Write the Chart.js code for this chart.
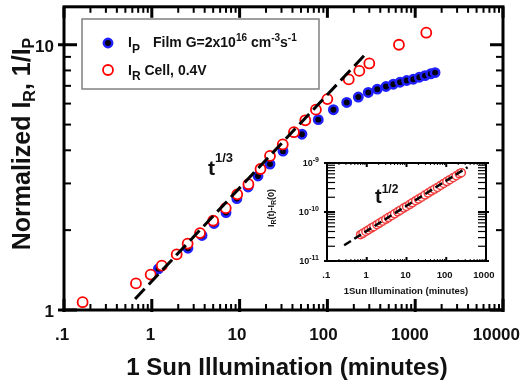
<!DOCTYPE html>
<html>
<head>
<meta charset="utf-8">
<script src="https://cdn.jsdelivr.net/npm/chart.js@4/dist/chart.umd.min.js"></script>
<style>
  html, body { margin: 0; padding: 0; background: #fff; }
  #wrap { position: relative; width: 528px; height: 386px; overflow: hidden; }
  #main { position: absolute; left: 0; top: 0; }
  #inset { position: absolute; left: 258px; top: 150px; }
</style>
</head>
<body>
<div id="wrap">
  <canvas id="main" width="528" height="386"></canvas>
  <canvas id="inset" width="247" height="150"></canvas>
</div>
<script>
// Photoconductivity (film) vs recombination current (cell) under 1 sun
const filmTime = [1.19, 2.58, 3.73, 5.11, 7.0, 9.3, 12.5, 16.2, 22.2, 31.2, 51.3, 78.7, 117, 166, 225, 292, 370, 465, 563, 671, 800, 951, 1113, 1294, 1503, 1683];
const filmNorm = [1.43, 1.71, 1.91, 2.12, 2.33, 2.63, 2.91, 3.2, 3.55, 3.97, 4.6, 5.22, 5.69, 6.06, 6.35, 6.61, 6.80, 6.96, 7.10, 7.22, 7.33, 7.41, 7.54, 7.65, 7.77, 7.85];

const cellTime = [0.163, 0.66, 0.97, 1.3, 1.92, 2.56, 3.54, 5.0, 6.95, 9.4, 12.6, 17.3, 22.2, 31, 41.6, 56, 74, 100, 175, 231, 300, 653, 1337];
const cellNorm = [1.07, 1.26, 1.36, 1.47, 1.62, 1.78, 1.95, 2.17, 2.42, 2.73, 2.98, 3.4, 3.81, 4.21, 4.68, 5.19, 5.69, 6.24, 7.40, 7.97, 8.5, 10.0, 11.1];

// t^(1/3) guide line
const fitTime = [0.645, 270];
const fitNorm = [1.1, 9.2];

const xTickVals = [0.1, 1, 10, 100, 1000, 10000];
const xTickText = ['.1', '1', '10', '100', '1000', '10000'];
const yTickVals = [1, 10];
const yTickText = ['1', '10'];

// inset: I_R(t) - I_R(0)
const insetTime = [0.7, 0.8, 0.95, 1.1, 1.3, 1.5, 1.8, 2.1, 2.5, 3, 3.5, 4.2, 5, 6, 7, 8.5, 10, 12, 14, 17, 20, 24, 29, 35, 42, 50, 60, 72, 86, 103, 123, 148, 178, 213, 240];
const insetCurrent = [3.45e-11, 3.68e-11, 4.0e-11, 4.3e-11, 4.7e-11, 5.0e-11, 5.5e-11, 5.95e-11, 6.5e-11, 7.1e-11, 7.7e-11, 8.4e-11, 9.2e-11, 1.01e-10, 1.09e-10, 1.2e-10, 1.3e-10, 1.42e-10, 1.54e-10, 1.7e-10, 1.84e-10, 2.01e-10, 2.22e-10, 2.44e-10, 2.67e-10, 2.9e-10, 3.18e-10, 3.49e-10, 3.82e-10, 4.18e-10, 4.56e-10, 5.0e-10, 5.49e-10, 6.0e-10, 6.36e-10];
const insetFitTime = [0.27, 344];
const insetFitCurrent = [2.1e-11, 8.2e-10];

const insetXTickVals = [0.1, 1, 10, 100, 1000];
const insetXTickText = ['.1', '1', '10', '100', '1000'];
const insetYTickVals = [1e-9, 1e-10, 1e-11];
const insetYTickExp = ['-9', '-10', '-11'];

const FONT = 'Arial, "Liberation Sans", sans-serif';

function pts(xs, ys) { return xs.map((v, i) => ({ x: v, y: ys[i] })); }

function runsWidth(ctx, runs) {
  let w = 0;
  for (const r of runs) { ctx.font = `bold ${r.size}px ${FONT}`; w += ctx.measureText(r.text).width; }
  return w;
}
function drawRuns(ctx, x, y, runs) {
  for (const r of runs) {
    ctx.font = `bold ${r.size}px ${FONT}`;
    ctx.fillText(r.text, x, y + (r.dy || 0));
    x += ctx.measureText(r.text).width;
  }
  return x;
}
function seg(ctx, x1, y1, x2, y2) {
  ctx.beginPath(); ctx.moveTo(x1, y1); ctx.lineTo(x2, y2); ctx.stroke();
}
// decade and sub-decade positions for tick marks
function logSteps(min, max) {
  const out = [];
  for (let e = Math.floor(Math.log10(min)); e <= Math.ceil(Math.log10(max)); e++) {
    for (let m = 1; m < 10; m++) {
      const v = m * Math.pow(10, e);
      if (v >= min * 0.999 && v <= max * 1.001) out.push({ v, major: m === 1 });
    }
  }
  return out;
}

const mainDecor = {
  id: 'mainDecor',
  afterDraw(chart) {
    const { ctx, chartArea: a, scales: { x, y } } = chart;
    ctx.save();
    ctx.strokeStyle = '#000';
    ctx.fillStyle = '#111';

    // inward ticks on all four sides
    for (const t of logSteps(x.min, x.max)) {
      const px = x.getPixelForValue(t.v);
      ctx.lineWidth = t.major ? 3 : 2;
      const len = t.major ? 11 : 6;
      seg(ctx, px, a.bottom + (t.major ? 2 : 0), px, a.bottom - len);
      seg(ctx, px, a.top, px, a.top + len);
    }
    for (const t of logSteps(y.min, y.max)) {
      const py = y.getPixelForValue(t.v);
      ctx.lineWidth = t.major ? 3 : 2;
      const len = t.major ? 13 : 7;
      seg(ctx, a.left - (t.major ? 6 : 0), py, a.left + len, py);
      seg(ctx, a.right, py, a.right - len, py);
    }
    ctx.lineWidth = 3;
    ctx.strokeRect(a.left, a.top, a.right - a.left, a.bottom - a.top);

    // tick labels
    ctx.font = `bold 17px ${FONT}`;
    ctx.textAlign = 'left';
    xTickVals.forEach((v, i) => {
      const w = ctx.measureText(xTickText[i]).width;
      ctx.fillText(xTickText[i], x.getPixelForValue(v) - w * 0.64, a.bottom + 30);
    });
    ctx.textAlign = 'right';
    yTickVals.forEach((v, i) => {
      ctx.fillText(yTickText[i], a.left - 10, y.getPixelForValue(v) + 7);
    });
    ctx.textAlign = 'left';

    // axis titles
    const xt = [{ text: '1 Sun Illumination (minutes)', size: 24 }];
    drawRuns(ctx, 287 - runsWidth(ctx, xt) / 2, 375, xt);

    const yt = [
      { text: 'Normalized I', size: 25 },
      { text: 'R', size: 16, dy: 5 },
      { text: ', 1/I', size: 25 },
      { text: 'P', size: 16, dy: 4 }
    ];
    ctx.save();
    ctx.translate(30, 144);
    ctx.rotate(-Math.PI / 2);
    drawRuns(ctx, -runsWidth(ctx, yt) / 2, 0, yt);
    ctx.restore();

    // legend
    ctx.fillStyle = '#fff';
    ctx.fillRect(82, 19, 237, 70);
    ctx.lineWidth = 1.5;
    ctx.strokeStyle = '#808080';
    ctx.strokeRect(82, 19, 237, 70);

    ctx.beginPath(); ctx.arc(108, 43, 4.2, 0, Math.PI * 2);
    ctx.fillStyle = '#000010'; ctx.fill();
    ctx.lineWidth = 2.5; ctx.strokeStyle = '#2020ff'; ctx.stroke();
    ctx.beginPath(); ctx.arc(108, 70, 5, 0, Math.PI * 2);
    ctx.fillStyle = '#fff'; ctx.fill();
    ctx.lineWidth = 1.8; ctx.strokeStyle = '#ff0000'; ctx.stroke();

    ctx.fillStyle = '#111';
    let cx = drawRuns(ctx, 128, 47, [{ text: 'I', size: 14 }, { text: 'P', size: 12, dy: 6 }]);
    cx = drawRuns(ctx, 153, 47, [{ text: 'Film G=2x10', size: 14 }, { text: '16', size: 10, dy: -6 }, { text: ' cm', size: 14 }]);
    cx = drawRuns(ctx, cx, 47, [{ text: '-3', size: 10, dy: -6 }, { text: 's', size: 14 }, { text: '-1', size: 10, dy: -6 }]);
    drawRuns(ctx, 128, 75, [{ text: 'I', size: 14 }, { text: 'R', size: 12, dy: 5 }, { text: ' Cell, 0.4V', size: 14 }]);

    // power-law annotation
    drawRuns(ctx, 208, 175, [{ text: 't', size: 21 }, { text: '1/3', size: 13, dy: -13 }]);
    ctx.restore();
  }
};

new Chart(document.getElementById('main'), {
  type: 'scatter',
  data: {
    datasets: [
      {
        label: 'fit',
        data: pts(fitTime, fitNorm),
        showLine: true,
        borderColor: '#000',
        borderWidth: 3,
        borderDash: [14, 6],
        pointRadius: 0,
        order: 0
      },
      {
        label: 'IR Cell, 0.4V',
        data: pts(cellTime, cellNorm),
        pointRadius: 5,
        pointBorderWidth: 1.8,
        pointBorderColor: '#ff0000',
        pointBackgroundColor: '#ffffff',
        order: 1
      },
      {
        label: 'IP Film',
        data: pts(filmTime, filmNorm),
        pointRadius: 4.2,
        pointBorderWidth: 2.5,
        pointBorderColor: '#2020ff',
        pointBackgroundColor: '#000010',
        order: 2
      }
    ]
  },
  options: {
    responsive: false,
    animation: false,
    devicePixelRatio: 1,
    layout: { padding: { left: 64, top: 5, right: 25, bottom: 76 } },
    plugins: { legend: { display: false }, tooltip: { enabled: false } },
    scales: {
      x: { type: 'logarithmic', min: 0.1, max: 10000, display: false },
      y: { type: 'logarithmic', min: 1, max: 13.9, display: false }
    }
  },
  plugins: [mainDecor]
});

const insetDecor = {
  id: 'insetDecor',
  afterDraw(chart) {
    const { ctx, chartArea: a, scales: { x, y } } = chart;
    ctx.save();
    ctx.strokeStyle = '#000';
    ctx.fillStyle = '#111';

    for (const t of logSteps(x.min, x.max)) {
      const px = x.getPixelForValue(t.v);
      ctx.lineWidth = t.major ? 2 : 1;
      const len = t.major ? 4 : 2;
      seg(ctx, px, a.bottom, px, a.bottom - len);
      seg(ctx, px, a.top, px, a.top + len);
    }
    for (const t of logSteps(y.min, y.max)) {
      const py = y.getPixelForValue(t.v);
      ctx.lineWidth = t.major ? 2 : 1.2;
      seg(ctx, a.left - (t.major ? 3 : 0), py, a.left + 8, py);
      seg(ctx, a.right + (t.major ? 3 : 0), py, a.right - 8, py);
    }
    ctx.lineWidth = 2;
    ctx.strokeRect(a.left, a.top, a.right - a.left, a.bottom - a.top);

    ctx.font = `bold 9.5px ${FONT}`;
    insetXTickVals.forEach((v, i) => {
      const w = ctx.measureText(insetXTickText[i]).width;
      ctx.fillText(insetXTickText[i], x.getPixelForValue(v) - w * 0.6, a.bottom + 17);
    });
    insetYTickVals.forEach((v, i) => {
      const runs = [{ text: '10', size: 9 }, { text: insetYTickExp[i], size: 7, dy: -4 }];
      drawRuns(ctx, a.left - 8 - runsWidth(ctx, runs), y.getPixelForValue(v) + 3, runs);
    });

    const xt = [{ text: '1Sun Illumination (minutes)', size: 9.5 }];
    drawRuns(ctx, 148 - runsWidth(ctx, xt) / 2, 143.5, xt);

    const yt = [
      { text: 'I', size: 9 }, { text: 'R', size: 7, dy: 2 },
      { text: '(t)-I', size: 9 }, { text: 'R', size: 7, dy: 2 },
      { text: '(0)', size: 9 }
    ];
    ctx.save();
    ctx.translate(16, 58);
    ctx.rotate(-Math.PI / 2);
    drawRuns(ctx, -runsWidth(ctx, yt) / 2, 0, yt);
    ctx.restore();

    drawRuns(ctx, 117, 53, [{ text: 't', size: 20 }, { text: '1/2', size: 12, dy: -10 }]);
    ctx.restore();
  }
};

new Chart(document.getElementById('inset'), {
  type: 'scatter',
  data: {
    datasets: [
      {
        label: 'fit',
        data: pts(insetFitTime, insetFitCurrent),
        showLine: true,
        borderColor: '#000',
        borderWidth: 2.5,
        borderDash: [8, 4],
        pointRadius: 0,
        order: 0
      },
      {
        label: 'IR(t)-IR(0)',
        data: pts(insetTime, insetCurrent),
        pointRadius: 4,
        pointBorderWidth: 1.5,
        pointBorderColor: '#f03c3c',
        pointBackgroundColor: '#ffffff',
        order: 1
      }
    ]
  },
  options: {
    responsive: false,
    animation: false,
    devicePixelRatio: 1,
    layout: { padding: { left: 69, top: 13, right: 19, bottom: 39 } },
    plugins: { legend: { display: false }, tooltip: { enabled: false } },
    scales: {
      x: { type: 'logarithmic', min: 0.1, max: 1000, display: false },
      y: { type: 'logarithmic', min: 1e-11, max: 1e-9, display: false }
    }
  },
  plugins: [insetDecor]
});
</script>
</body>
</html>
